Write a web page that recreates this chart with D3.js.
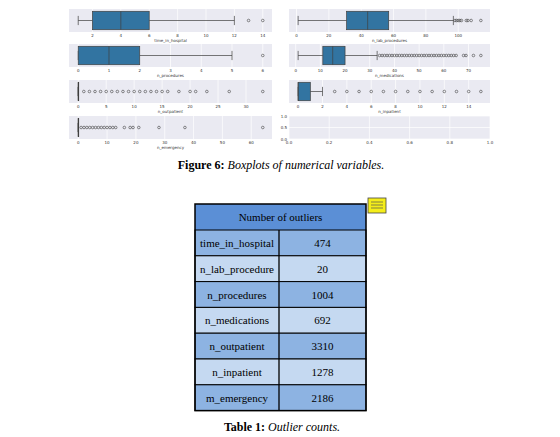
<!DOCTYPE html><html><head><meta charset="utf-8">
<script src="https://cdn.jsdelivr.net/npm/d3@7"></script>
<style>body{margin:0;background:#fff}</style></head><body>
<svg id="c" width="560" height="437"></svg>
<script>
const names=["time_in_hospital","n_procedures","n_outpatient","n_emergency","n_lab_procedures","n_medications","n_inpatient"];
const domains=[[0.35,14.65],[-0.3,6.3],[-1.65,34.65],[-3.2,67.2],[-4.65,119.65],[-2.7,78.7],[-0.75,15.75]];
const ticks=[[2,4,6,8,10,12,14],[0,1,2,3,4,5,6],[0,5,10,15,20,25,30],[0,10,20,30,40,50,60],[0,20,40,60,80,100],[0,10,20,30,40,50,60,70],[0,2,4,6,8,10,12,14]];
// [whiskerLow, q1, median, q3, whiskerHigh]
const stats=[[1,2,4,6,12],[0,0,1,2,5],[0,0,0,0,0],[0,0,0,0,0],[1,31,44,57,97],[1,11,15,20,33],[0,0,0,1,2]];
const outliers=[[13,14],[6],[1,2,3,4,5,6,7,8,9,10,11,12,13,14,15,16,18,20,21,23,27,33],
[1,2,3,4,5,6,7,8,9,10,11,12,13,16,18,19,21,28,37,64],
[98,99,100,101,102,105,106,108,114],
[34,35,36,37,38,39,40,41,42,43,44,45,46,47,48,49,50,51,52,53,54,55,56,57,58,59,60,61,62,63,64,65,68,69,72,75],
[3,4,5,6,7,8,9,10,11,12,13,14,15]];
const tableRows=["time_in_hospital","n_lab_procedure","n_procedures","n_medications","n_outpatient","n_inpatient","m_emergency"];
const tableVals=[474,20,1004,692,3310,1278,2186];

const svg=d3.select("#c");
const cols=[[69,272],[289,490]], tops=[9,44,80,116], H=23;
const pos=[[0,0],[0,1],[0,2],[0,3],[1,0],[1,1],[1,2]];
function panel(x0,x1,y0,x,tk,fmt){
  svg.append("rect").attr("x",x0).attr("y",y0).attr("width",x1-x0).attr("height",H).attr("fill","#eaeaf2");
  tk.forEach(t=>{svg.append("line").attr("x1",x(t)).attr("x2",x(t)).attr("y1",y0).attr("y2",y0+H).attr("stroke","#fff").attr("stroke-width",0.7);
    svg.append("text").attr("x",x(t)).attr("y",y0+H+5).attr("text-anchor","middle").attr("font-size",4).attr("font-family","DejaVu Sans").attr("fill","#333").text(fmt(t));});
}
names.forEach((n,i)=>{
  const [c,r]=pos[i],[x0,x1]=cols[c],y0=tops[r];
  const x=d3.scaleLinear().domain(domains[i]).range([x0,x1]);
  panel(x0,x1,y0,x,ticks[i],d=>d);
  svg.append("text").attr("x",(x0+x1)/2).attr("y",y0+H+10).attr("text-anchor","middle").attr("font-size",4).attr("font-family","DejaVu Sans").attr("fill","#333").text(n);
  const s=stats[i],cy=y0+H/2,bh=H*0.8,g=svg.append("g").attr("stroke","#3f3f3f").attr("stroke-width",0.7);
  g.append("line").attr("x1",x(s[0])).attr("x2",x(s[1])).attr("y1",cy).attr("y2",cy);
  g.append("line").attr("x1",x(s[3])).attr("x2",x(s[4])).attr("y1",cy).attr("y2",cy);
  [s[0],s[4]].forEach(v=>g.append("line").attr("x1",x(v)).attr("x2",x(v)).attr("y1",cy-bh/4).attr("y2",cy+bh/4));
  g.append("rect").attr("x",x(s[1])).attr("y",cy-bh/2).attr("width",Math.max(x(s[3])-x(s[1]),0.5)).attr("height",bh).attr("fill","#3274a1");
  g.append("line").attr("x1",x(s[2])).attr("x2",x(s[2])).attr("y1",cy-bh/2).attr("y2",cy+bh/2);
  outliers[i].forEach(v=>g.append("circle").attr("cx",x(v)).attr("cy",cy).attr("r",1.3).attr("fill","none").attr("stroke-width",0.6));
});
// empty panel
{const [x0,x1]=cols[1],y0=tops[3];
 const x=d3.scaleLinear().domain([0,1]).range([x0,x1]),y=d3.scaleLinear().domain([0,1]).range([y0+H,y0]);
 panel(x0,x1,y0,x,[0,0.2,0.4,0.6,0.8,1],d=>d.toFixed(1));
 [0,0.5,1].forEach(t=>{svg.append("line").attr("x1",x0).attr("x2",x1).attr("y1",y(t)).attr("y2",y(t)).attr("stroke","#fff").attr("stroke-width",0.7);
  svg.append("text").attr("x",x0-2).attr("y",y(t)+1.5).attr("text-anchor","end").attr("font-size",4).attr("font-family","DejaVu Sans").attr("fill","#333").text(t.toFixed(1));});}
// caption
const cap=svg.append("text").attr("x",281).attr("y",169).attr("text-anchor","middle").attr("font-family","Liberation Serif").attr("font-size",12);
cap.append("tspan").attr("font-weight","bold").text("Figure 6: ");cap.append("tspan").attr("font-style","italic").text("Boxplots of numerical variables.");
// table
const tx0=195,tx1=366,tmid=279,hy=204,rh=25.8;
svg.append("rect").attr("x",tx0).attr("y",hy).attr("width",tx1-tx0).attr("height",26).attr("fill","#5b8fd6");
svg.append("text").attr("x",(tx0+tx1)/2).attr("y",hy+17).attr("text-anchor","middle").attr("font-family","Liberation Serif").attr("font-size",11).text("Number of outliers");
tableRows.forEach((t,i)=>{const y=230+i*rh,f=i%2?"#c5d9f1":"#8db3e2";
  svg.append("rect").attr("x",tx0).attr("y",y).attr("width",tx1-tx0).attr("height",rh).attr("fill",f).attr("stroke","#000").attr("stroke-width",1);
  svg.append("text").attr("x",(tx0+tmid)/2).attr("y",y+17).attr("text-anchor","middle").attr("font-family","Liberation Serif").attr("font-size",11).text(t);
  svg.append("text").attr("x",(tmid+tx1)/2).attr("y",y+17).attr("text-anchor","middle").attr("font-family","Liberation Serif").attr("font-size",11).text(tableVals[i]);});
svg.append("line").attr("x1",tmid).attr("x2",tmid).attr("y1",230).attr("y2",230+7*rh).attr("stroke","#000").attr("stroke-width",1.3);
svg.append("rect").attr("x",tx0).attr("y",hy).attr("width",tx1-tx0).attr("height",230+7*rh-hy).attr("fill","none").attr("stroke","#000").attr("stroke-width",1.5);
// note icon
svg.append("rect").attr("x",368).attr("y",198).attr("width",18).attr("height",15).attr("fill","#f5ee1a").attr("stroke","#444").attr("stroke-width",0.8);
[202,205,208].forEach(y=>svg.append("line").attr("x1",371).attr("x2",383).attr("y1",y).attr("y2",y).attr("stroke","#555").attr("stroke-width",0.7));
const cap2=svg.append("text").attr("x",282).attr("y",431).attr("text-anchor","middle").attr("font-family","Liberation Serif").attr("font-size",12);
cap2.append("tspan").attr("font-weight","bold").text("Table 1: ");cap2.append("tspan").attr("font-style","italic").text("Outlier counts.");
</script></body></html>
